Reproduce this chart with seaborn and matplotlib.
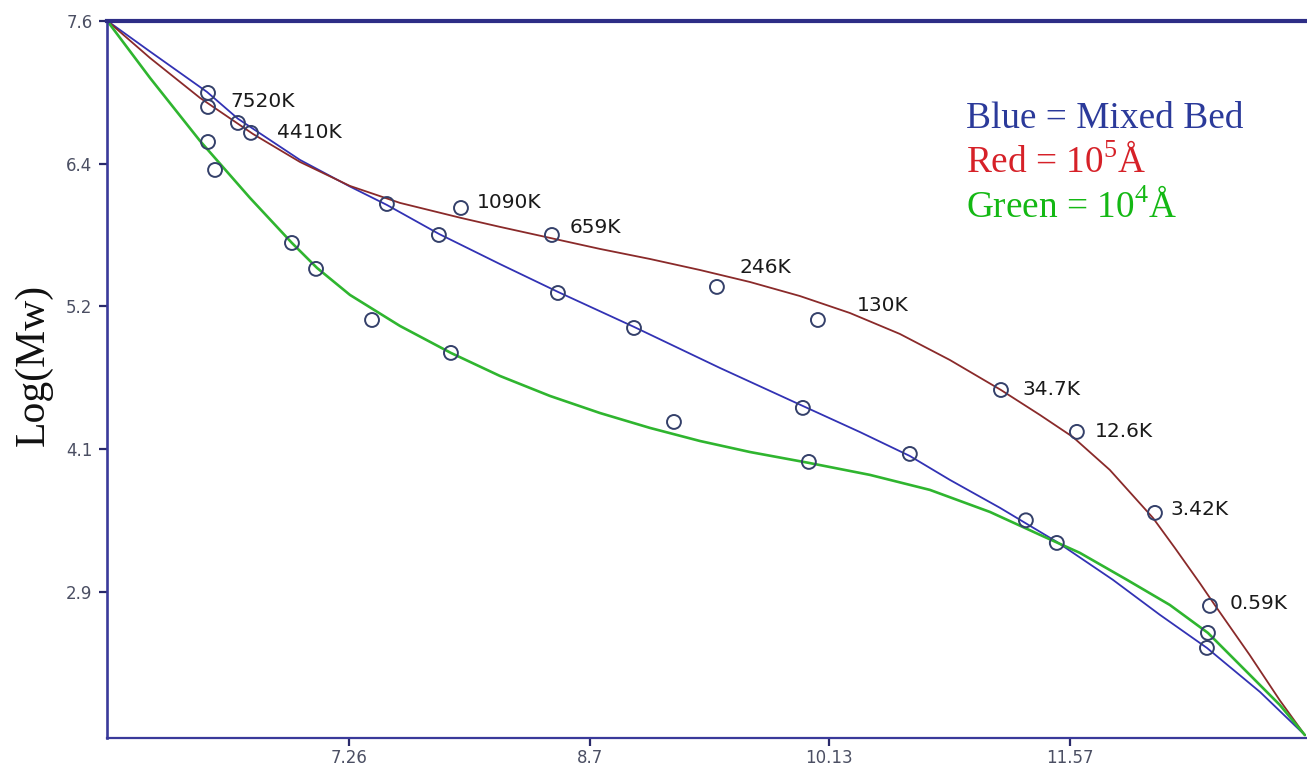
import matplotlib
matplotlib.use("Agg")
import matplotlib.pyplot as plt
import seaborn as sns
import pandas as pd
from matplotlib.ticker import FormatStrFormatter

# --------------------------
# Data
# --------------------------
# measured points
blue_x = [6.417, 6.596, 7.487, 7.798, 8.510, 8.965, 9.975, 10.615, 11.494, 12.392]
blue_y = [7.003, 6.755, 6.086, 5.830, 5.351, 5.062, 4.402, 4.022, 3.287, 2.420]

green_x = [6.417, 6.459, 6.919, 7.063, 7.398, 7.870, 9.204, 10.011, 11.309, 12.398]
green_y = [6.598, 6.367, 5.764, 5.550, 5.128, 4.856, 4.286, 3.956, 3.474, 2.544]

red_x = [6.417, 6.674, 7.930, 8.474, 9.461, 10.065, 11.160, 11.614, 12.081, 12.410]
red_y = [6.887, 6.673, 6.053, 5.830, 5.401, 5.128, 4.550, 4.204, 3.535, 2.767]
red_labels = ["7520K", "4410K", "1090K", "659K", "246K", "130K", "34.7K", "12.6K", "3.42K", "0.59K"]

# fitted calibration curves
blue_fit_x = [5.813, 6.070, 6.411, 6.596, 6.967, 7.266, 7.487, 7.798, 8.163, 8.510, 8.965,
              9.479, 9.975, 10.316, 10.615, 10.854, 11.154, 11.494, 11.829, 12.110, 12.392,
              12.709, 12.978]
blue_fit_y = [7.60, 7.345, 7.011, 6.790, 6.450, 6.230, 6.078, 5.839, 5.590, 5.360, 5.071,
              4.732, 4.418, 4.203, 4.005, 3.808, 3.577, 3.296, 2.983, 2.694, 2.420,
              2.057, 1.70]

green_fit_x = [5.813, 6.070, 6.369, 6.668, 6.919, 7.069, 7.266, 7.565, 7.870, 8.163, 8.462,
               8.761, 9.060, 9.359, 9.658, 10.011, 10.376, 10.735, 11.094, 11.393, 11.632,
               11.913, 12.170, 12.398, 12.649, 12.828, 12.978]
green_fit_y = [7.60, 7.127, 6.607, 6.136, 5.764, 5.558, 5.335, 5.079, 4.856, 4.666, 4.501,
               4.360, 4.237, 4.129, 4.038, 3.948, 3.849, 3.725, 3.543, 3.354, 3.205,
               2.983, 2.775, 2.544, 2.197, 1.949, 1.70]

red_fit_x = [5.813, 6.070, 6.369, 6.686, 6.967, 7.266, 7.565, 7.930, 8.163, 8.462, 8.761,
             9.060, 9.359, 9.658, 9.957, 10.256, 10.555, 10.854, 11.160, 11.393, 11.590,
             11.811, 12.069, 12.200, 12.350, 12.440, 12.649, 12.828, 12.978]
red_fit_y = [7.60, 7.292, 6.962, 6.664, 6.433, 6.235, 6.095, 5.971, 5.897, 5.806, 5.715,
             5.632, 5.541, 5.442, 5.326, 5.186, 5.013, 4.798, 4.550, 4.344, 4.162,
             3.890, 3.494, 3.246, 2.954, 2.772, 2.359, 1.987, 1.70]

x_ticks = [7.26, 8.7, 10.13, 11.57]
y_ticks = [7.6, 6.42, 5.24, 4.06, 2.88]

# label placement (pixels from the marker centre)
label_offsets = [(22, 5), (26, 0), (16, 5), (18, 7), (23, 19), (39, 14), (21, 0), (18, 0), (15, 3), (20, 2)]

# --------------------------
# Frames
# --------------------------
fits = {
    "blue": pd.DataFrame({"x": blue_fit_x, "y": blue_fit_y}),
    "red": pd.DataFrame({"x": red_fit_x, "y": red_fit_y}),
    "green": pd.DataFrame({"x": green_fit_x, "y": green_fit_y}),
}
points = pd.concat([
    pd.DataFrame({"x": blue_x, "y": blue_y, "series": "blue"}),
    pd.DataFrame({"x": red_x, "y": red_y, "series": "red"}),
    pd.DataFrame({"x": green_x, "y": green_y, "series": "green"}),
])

line_colors = {"blue": "#3232b4", "red": "#8a2a2a", "green": "#2fb52f"}
line_widths = {"blue": 1.3, "red": 1.3, "green": 1.9}

# --------------------------
# Plot
# --------------------------
sns.set_style("white")
fig = plt.figure(figsize=(13.07, 7.70), dpi=100)
ax = fig.add_axes([0.0819, 0.0412, 0.9174, 0.932])

for name, df in fits.items():
    sns.lineplot(data=df, x="x", y="y", color=line_colors[name], sort=False,
                 estimator=None, linewidth=line_widths[name], ax=ax, zorder=2)
sns.scatterplot(data=points, x="x", y="y", color="none", edgecolor="#34406a",
                linewidth=1.4, s=100, legend=False, ax=ax, zorder=3)

for lx, ly, txt, (dx, dy) in zip(red_x, red_y, red_labels, label_offsets):
    ax.annotate(txt, (lx, ly), xytext=(dx, dy), textcoords="offset pixels",
                ha="left", va="center", fontsize=14.5, color="#1a1a1a",
                family="DejaVu Sans")

ax.set_xlim(5.813, 12.985)
ax.set_ylim(1.674, 7.6)
ax.set_xticks(x_ticks)
ax.set_xticklabels([str(t) for t in x_ticks])
ax.set_yticks(y_ticks)
ax.yaxis.set_major_formatter(FormatStrFormatter("%.1f"))
ax.tick_params(axis="both", which="major", bottom=True, left=True, length=5.5, width=1.6,
               color="#2a2a6a", labelsize=12, labelcolor="#4b4f63", pad=2, direction="out")
ax.tick_params(axis="y", pad=5)
for lab in ax.get_xticklabels() + ax.get_yticklabels():
    lab.set_family("DejaVu Sans")

ax.set_xlabel("")
ax.set_ylabel("Log(Mw)", family="Liberation Serif", fontsize=30, color="#111111")
ax.yaxis.set_label_coords(-0.045, 0.52)

ax.spines["right"].set_visible(False)
ax.spines["top"].set_linewidth(3.0)
ax.spines["top"].set_color("#2e2e86")
ax.spines["left"].set_linewidth(1.9)
ax.spines["left"].set_color("#3a3a9a")
ax.spines["bottom"].set_linewidth(1.6)
ax.spines["bottom"].set_color("#3a3a9a")

# colour key
fig.text(0.739, 0.8338, "Blue = Mixed Bed", family="Liberation Serif", fontsize=26.8,
         color="#2b3a9a", va="baseline")
fig.text(0.739, 0.7753, r"Red = 10$^{\mathregular{5}}$Å", family="Liberation Serif", fontsize=26.8,
         color="#d62128", va="baseline")
fig.text(0.739, 0.7169, r"Green = 10$^{\mathregular{4}}$Å", family="Liberation Serif", fontsize=26.8,
         color="#14b814", va="baseline")

fig.savefig("out.png", dpi=100)
